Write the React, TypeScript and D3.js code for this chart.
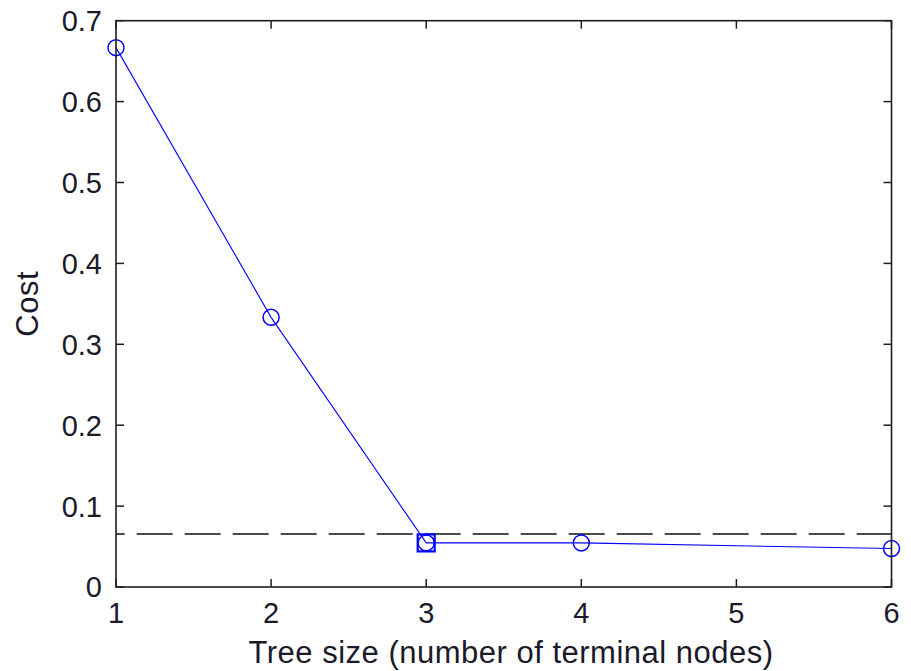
import React from "react";
import * as d3 from "d3";

const treeSizes = [1, 2, 3, 4, 6];
const costs = [0.6667, 0.3333, 0.0545, 0.0545, 0.0475];
const bestIndex = 2;
const thresholdCost = 0.0655;
const xTicks = [1, 2, 3, 4, 5, 6];
const yTicks = [0, 0.1, 0.2, 0.3, 0.4, 0.5, 0.6, 0.7];
const xLabel = "Tree size (number of terminal nodes)";
const yLabel = "Cost";

const W = 911;
const H = 671;
const L = 116, R = 891.5, T = 20.7, B = 587;

export default function App() {
  const x = d3.scaleLinear().domain([1, 6]).range([L, R]);
  const y = d3.scaleLinear().domain([0, 0.7]).range([B, T]);
  const pts: [number, number][] = treeSizes.map((s, i) => [s, costs[i]]);
  const line = d3.line<[number, number]>().x(d => x(d[0])).y(d => y(d[1]));
  const font = "'Liberation Sans', Arial, sans-serif";
  const axisColor = "#1e1e1e";
  const tickLen = 8;
  return (
    <svg width={W} height={H} style={{ position: "absolute", left: 0, top: 0, background: "#fff" }}>
      <rect x={0} y={0} width={W} height={H} fill="#fff" />
      {/* dashed threshold line */}
      <line x1={L} x2={R} y1={y(thresholdCost)} y2={y(thresholdCost)} stroke="#111" strokeWidth={1.6}
        strokeDasharray="36,12" strokeDashoffset={27.3} />
      {/* data line */}
      <path d={line(pts) || ""} fill="none" stroke="#0000ff" strokeWidth={1.1} />
      {pts.map((p, i) => (
        <circle key={i} cx={x(p[0])} cy={y(p[1])} r={8} fill="none" stroke="#0000ff" strokeWidth={1.5} />
      ))}
      <rect x={x(pts[bestIndex][0]) - 8.5} y={y(pts[bestIndex][1]) - 8.5} width={17} height={17}
        fill="none" stroke="#0000ff" strokeWidth={2.2} />
      {/* ticks */}
      {xTicks.map(t => (
        <g key={"xt" + t}>
          <line x1={x(t)} x2={x(t)} y1={B} y2={B - tickLen} stroke={axisColor} strokeWidth={1.5} />
          <line x1={x(t)} x2={x(t)} y1={T} y2={T + tickLen} stroke={axisColor} strokeWidth={1.5} />
          <text x={x(t)} y={623} textAnchor="middle" fontFamily={font} fontSize={29} fill="#1a1a2a">{t}</text>
        </g>
      ))}
      {yTicks.map(t => (
        <g key={"yt" + t}>
          <line x1={L} x2={L + tickLen} y1={y(t)} y2={y(t)} stroke={axisColor} strokeWidth={1.5} />
          <line x1={R} x2={R - tickLen} y1={y(t)} y2={y(t)} stroke={axisColor} strokeWidth={1.5} />
          <text x={102} y={y(t)} dy="0.36em" textAnchor="end" fontFamily={font} fontSize={29} fill="#1a1a2a">{t === 0 ? "0" : t.toFixed(1)}</text>
        </g>
      ))}
      {/* box */}
      <rect x={L} y={T} width={R - L} height={B - T} fill="none" stroke={axisColor} strokeWidth={1.6} />
      {/* labels */}
      <text x={511} y={663} textAnchor="middle" fontFamily={font} fontSize={31} letterSpacing={0.5} fill="#1a1a2a">{xLabel}</text>
      <text transform={`translate(38, ${(T + B) / 2}) rotate(-90)`} textAnchor="middle" fontFamily={font} fontSize={31} letterSpacing={0.5} fill="#1a1a2a">{yLabel}</text>
    </svg>
  );
}
